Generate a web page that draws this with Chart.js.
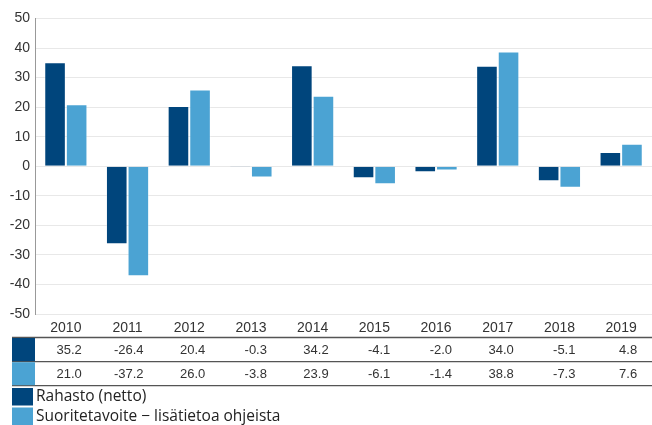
<!DOCTYPE html>
<html>
<head>
<meta charset="utf-8">
<script src="https://cdn.jsdelivr.net/npm/chart.js@4"></script>
<style>
  html, body { margin: 0; padding: 0; background: #fff; }
  #wrap { width: 652px; height: 425px; }
</style>
</head>
<body>
<div id="wrap"><canvas id="chart" width="652" height="425"></canvas></div>
<script>
const years = ["2010", "2011", "2012", "2013", "2014", "2015", "2016", "2017", "2018", "2019"];
const rahasto = [35.2, -26.4, 20.4, -0.3, 34.2, -4.1, -2.0, 34.0, -5.1, 4.8];
const suoritetavoite = [21.0, -37.2, 26.0, -3.8, 23.9, -6.1, -1.4, 38.8, -7.3, 7.6];
const seriesNames = ["Rahasto (netto)", "Suoritetavoite \u2212 lis\u00e4tietoa ohjeista"];
const colors = ["#00457c", "#4ba3d3"];

const tickFont = "Liberation Sans, Arial, sans-serif";

// table + legend under the plot
const tablePlugin = {
  id: "dataTable",
  afterDraw(chart) {
    const ctx = chart.ctx;
    const x = chart.scales.x;
    const lineY = [337.5, 361.7, 385.7];
    const rows = [rahasto, suoritetavoite];

    ctx.save();
    ctx.strokeStyle = "#555";
    ctx.lineWidth = 1.3;
    lineY.forEach(y => {
      ctx.beginPath();
      ctx.moveTo(12, y);
      ctx.lineTo(652, y);
      ctx.stroke();
    });

    rows.forEach((vals, r) => {
      ctx.fillStyle = colors[r];
      ctx.fillRect(12, lineY[r] + 0.5, 23, lineY[r + 1] - lineY[r] - 1);
      ctx.fillStyle = "#333";
      ctx.font = "13px " + tickFont;
      ctx.textAlign = "right";
      ctx.textBaseline = "middle";
      const cy = (lineY[r] + lineY[r + 1]) / 2 + 0.5;
      vals.forEach((v, i) => {
        ctx.fillText(v.toFixed(1), x.getPixelForValue(i) + 16, cy);
      });
    });

    // legend
    const legY = [388, 407.5];
    ctx.font = "15.5px 'Open Sans', sans-serif";
    ctx.textAlign = "left";
    ctx.textBaseline = "middle";
    seriesNames.forEach((name, i) => {
      ctx.fillStyle = colors[i];
      ctx.fillRect(12, legY[i], 21, 17.5);
      ctx.fillStyle = "#222";
      ctx.fillText(name, 36, legY[i] + 9);
    });
    ctx.restore();
  }
};

new Chart(document.getElementById("chart"), {
  type: "bar",
  data: {
    labels: years,
    datasets: [
      { label: seriesNames[0], data: rahasto, backgroundColor: colors[0], borderColor: "rgba(255,255,255,0.3)", borderWidth: 1 },
      { label: seriesNames[1], data: suoritetavoite, backgroundColor: colors[1], borderColor: "rgba(255,255,255,0.3)", borderWidth: 1 }
    ]
  },
  options: {
    responsive: false,
    animation: false,
    events: [],
    layout: { padding: { top: 18.5, bottom: 87, left: 0, right: -2 } },
    datasets: { bar: { categoryPercentage: 0.7, barPercentage: 1 } },
    plugins: { legend: { display: false }, tooltip: { enabled: false } },
    scales: {
      x: {
        grid: { display: false, drawTicks: false },
        border: { display: false },
        ticks: { color: "#333", font: { family: tickFont, size: 14 }, padding: 6 },
        afterFit(scale) { scale.height = 24; }
      },
      y: {
        min: -50,
        max: 50,
        ticks: { stepSize: 10, color: "#333", font: { family: tickFont, size: 14 }, padding: 5 },
        grid: { color: "#e8e8e8", drawTicks: false },
        border: { color: "#999" },
        afterFit(scale) { scale.width = 35; }
      }
    }
  },
  plugins: [tablePlugin]
});
</script>
</body>
</html>
